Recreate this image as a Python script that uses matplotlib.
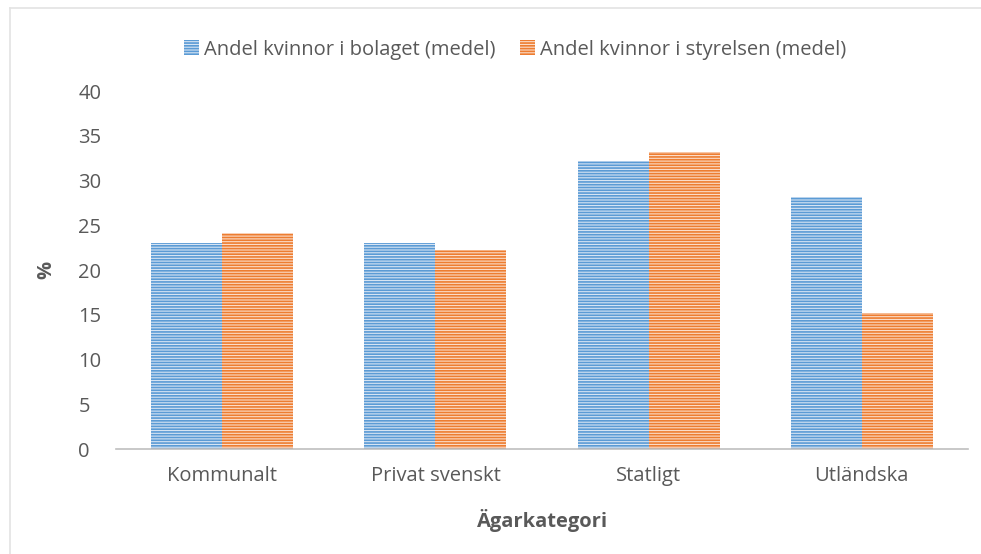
import numpy as np
import matplotlib.pyplot as plt
from matplotlib.lines import Line2D

plt.rcParams['hatch.linewidth'] = 1.2

categories = ["Kommunalt", "Privat svenskt", "Statligt", "Utländska"]
bolaget = [23.0, 23.0, 32.2, 28.2]
styrelsen = [24.1, 22.2, 33.2, 15.2]
series_names = ["Andel kvinnor i bolaget (medel)", "Andel kvinnor i styrelsen (medel)"]

text_color = "#595959"
font = "Open Sans"
fs = 14.5

fig = plt.figure(figsize=(9.81, 5.54), dpi=100)
ax = fig.add_axes([0.118, 0.1895, 0.869, 0.6462])

# light frame (top and left edges visible)
W, H = 981, 554
fig.lines.append(Line2D([10 / W, 1], [1 - 8 / H, 1 - 8 / H], transform=fig.transFigure,
                        color="#E3E3E3", linewidth=1.2))
fig.lines.append(Line2D([10 / W, 10 / W], [0, 1 - 8 / H], transform=fig.transFigure,
                        color="#E3E3E3", linewidth=1.2))

x = np.arange(len(categories))
w = 0.333
ax.bar(x - w / 2, bolaget, w, facecolor="#D6E4F3", edgecolor="#5B9BD5",
       hatch="------", linewidth=0, label=series_names[0])
ax.bar(x + w / 2, styrelsen, w, facecolor="#FBDCC8", edgecolor="#ED7D31",
       hatch="------", linewidth=0, label=series_names[1])

ax.set_xlim(-0.5, len(categories) - 0.5)
ax.set_ylim(0, 40)
ax.set_yticks(range(0, 41, 5))
ax.set_xticks(x)
ax.set_xticklabels(categories)

for s in ["top", "right", "left"]:
    ax.spines[s].set_visible(False)
ax.spines["bottom"].set_color("#BFBFBF")
ax.spines["bottom"].set_linewidth(1.2)
ax.tick_params(length=0, colors=text_color, labelsize=fs)
ax.tick_params(axis="x", pad=12)
ax.tick_params(axis="y", pad=27)
for lab in ax.get_xticklabels() + ax.get_yticklabels():
    lab.set_fontfamily(font)
for lab in ax.get_yticklabels():
    lab.set_horizontalalignment("left")

ax.set_ylabel("%", fontsize=fs, color=text_color, fontweight="bold",
              fontfamily=font, labelpad=16)
ax.set_xlabel("Ägarkategori", fontsize=fs, color=text_color, fontweight="bold",
              fontfamily=font, labelpad=17)

leg = fig.legend(loc="center", bbox_to_anchor=(0.525, 0.91), ncol=2, frameon=False,
                 handlelength=0.75, handleheight=0.75, handletextpad=0.25,
                 columnspacing=1.2, prop={"family": font, "size": fs})
for t in leg.get_texts():
    t.set_color(text_color)

fig.savefig("out.png", dpi=100)
